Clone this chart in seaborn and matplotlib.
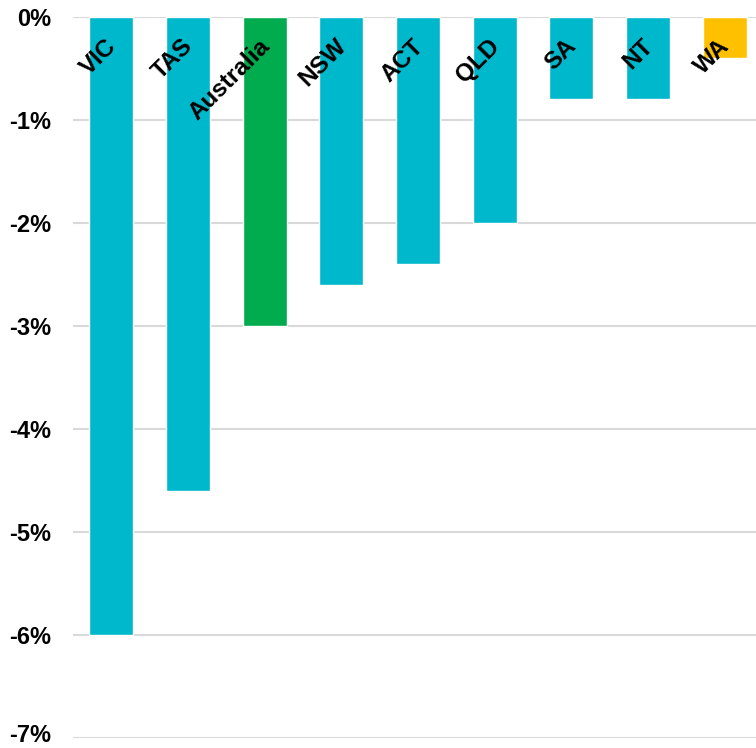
import matplotlib
matplotlib.use("Agg")
import matplotlib.pyplot as plt
from matplotlib.ticker import FuncFormatter
from matplotlib.transforms import ScaledTranslation
import seaborn as sns
import pandas as pd

# Change by state/territory (%)
regions = ["VIC", "TAS", "Australia", "NSW", "ACT", "QLD", "SA", "NT", "WA"]
change_pct = [-6.0, -4.6, -3.0, -2.6, -2.4, -2.0, -0.8, -0.8, -0.4]
y_ticks = [0, -1, -2, -3, -4, -5, -6, -7]

TEAL = "#00B8CC"
GREEN = "#00AC4E"
GOLD = "#FFC000"
palette = {r: TEAL for r in regions}
palette["Australia"] = GREEN
palette["WA"] = GOLD

df = pd.DataFrame({"region": regions, "change": change_pct})

sns.set_theme(style="white")
plt.rcParams["font.family"] = ["Liberation Sans", "DejaVu Sans"]

fig = plt.figure(figsize=(7.56, 7.48), dpi=100)
ax = fig.add_axes([73 / 756, 10 / 748, 690 / 756, 721 / 748])

sns.barplot(data=df, x="region", y="change", hue="region", palette=palette,
            order=regions, hue_order=regions, width=0.574, saturation=1,
            legend=False, ax=ax, zorder=3)

ax.set_xlim(-0.5, len(regions) - 0.5)
ax.set_ylim(-7, 0)
ax.set_yticks(y_ticks)
ax.yaxis.set_major_formatter(FuncFormatter(lambda v, _: f"{v:.0f}%".replace("−", "-")))
ax.grid(axis="y", color="#D9D9D9", linewidth=1.5, zorder=0)
ax.grid(axis="x", visible=False)
ax.set_axisbelow(True)
for s in ax.spines.values():
    s.set_visible(False)
ax.tick_params(axis="y", length=0, pad=15.5, labelsize=17, labelcolor="black")
for lab in ax.get_yticklabels():
    lab.set_fontweight("bold")
ax.set_xticks([])
ax.set_xlabel("")
ax.set_ylabel("")

# Keep the lowest tick label inside the canvas
fig.canvas.draw()
bottom_tick = ax.yaxis.get_major_ticks()[-1]
bottom_tick.label1.set_transform(bottom_tick.label1.get_transform()
                                 + ScaledTranslation(0, 3.5 / 72, fig.dpi_scale_trans))

# Rotated category labels hanging just under the zero line
for i, name in enumerate(regions):
    ax.text(i + 0.02, -0.25, name, rotation=45, rotation_mode="anchor",
            ha="right", va="center", fontsize=17.5, fontweight="bold",
            color="black", zorder=5)

fig.savefig("out.png", dpi=100)
